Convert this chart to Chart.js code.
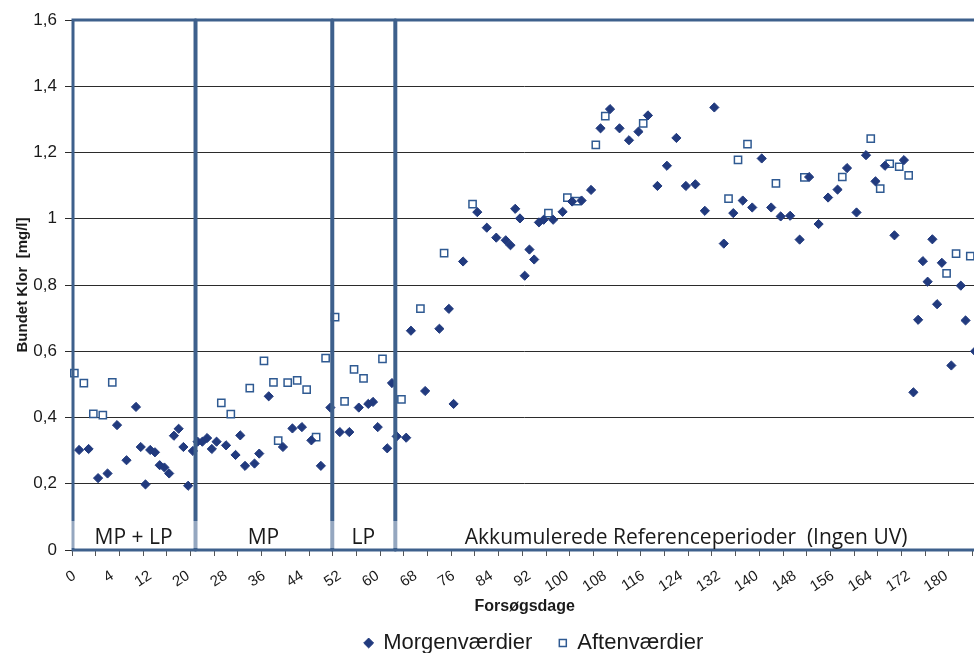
<!DOCTYPE html>
<html lang="da">
<head>
<meta charset="utf-8">
<title>Bundet klor</title>
<script src="https://cdn.jsdelivr.net/npm/chart.js@4.4.1/dist/chart.umd.min.js"></script>
<style>
  html, body { margin: 0; padding: 0; background: #fff; overflow: hidden; }
  #wrap { width: 984px; height: 653px; }
</style>
</head>
<body>
<div id="wrap"><canvas id="chart" width="984" height="653"></canvas></div>
<script>
// Prøvenummer (position på x-aksen) og målt bundet klor [mg/l]
const morgenNr = [1, 3, 5, 7, 9, 11, 13, 14, 15, 16, 17, 18, 19, 20, 21, 22, 23, 24, 25,
  26, 27, 28, 29, 30, 32, 34, 35, 36, 38, 39, 41, 44, 46, 48, 50, 52, 54,
  56, 58, 60, 62, 63, 64, 66, 67, 68, 70, 71, 74, 77, 79, 80, 82,
  85, 87, 89, 91, 92, 93, 94, 95, 96, 97, 98, 99, 101, 103, 105, 107, 109,
  111, 113, 115, 117, 119, 121, 123, 125, 127, 129, 131, 133, 135, 137, 139,
  141, 143, 145, 147, 149, 151, 153, 155, 157, 159, 161, 163, 165, 167, 169,
  171, 173, 175, 177, 178, 179, 180, 181, 182, 183, 185, 187, 188, 190];
const morgenVal = [0.302, 0.305, 0.217, 0.231, 0.377, 0.271, 0.432, 0.311, 0.198, 0.302, 0.295, 0.256, 0.249, 0.231, 0.345, 0.366, 0.311, 0.194, 0.299,
  0.327, 0.327, 0.338, 0.305, 0.327, 0.316, 0.287, 0.346, 0.254, 0.261, 0.291, 0.464, 0.311, 0.367, 0.371, 0.331, 0.254, 0.430,
  0.356, 0.356, 0.430, 0.441, 0.447, 0.371, 0.307, 0.504, 0.343, 0.339, 0.662, 0.480, 0.668, 0.728, 0.441, 0.871,
  1.020, 0.973, 0.943, 0.935, 0.920, 1.030, 1.001, 0.828, 0.907, 0.877, 0.989, 0.997, 0.997, 1.021, 1.052, 1.055, 1.087,
  1.273, 1.331, 1.273, 1.237, 1.263, 1.312, 1.099, 1.160, 1.244, 1.099, 1.104, 1.024, 1.336, 0.925, 1.017,
  1.055, 1.034, 1.182, 1.034, 1.007, 1.009, 0.937, 1.126, 0.984, 1.064, 1.088, 1.153, 1.019, 1.192, 1.113,
  1.160, 0.950, 1.177, 0.476, 0.695, 0.872, 0.810, 0.938, 0.742, 0.867, 0.557, 0.798, 0.693, 0.600];

const aftenNr = [0, 2, 4, 6, 8, 31, 33, 37, 40, 42, 43, 45, 47, 49, 51, 53, 55, 57, 59, 61, 65, 69, 73, 78,
  84, 100, 104, 106, 110, 112, 120, 138, 140, 142, 148, 154, 162, 168, 170, 172, 174, 176, 184, 186, 189];
const aftenVal = [0.534, 0.504, 0.411, 0.407, 0.506, 0.444, 0.410, 0.489, 0.571, 0.506, 0.330, 0.505, 0.512, 0.484, 0.341, 0.579,
  0.703, 0.449, 0.545, 0.518, 0.577, 0.455, 0.729, 0.896,
  1.044, 1.017, 1.064, 1.053, 1.223, 1.310, 1.288, 1.061, 1.178, 1.225, 1.107, 1.125, 1.126, 1.242, 1.091, 1.166, 1.157, 1.131,
  0.835, 0.895, 0.887];

const antalPrøver = 191;
// forsøgsdag skrives ved hver 8. prøve
const dagLabels = ['0', '4', '12', '20', '28', '36', '44', '52', '60', '68', '76', '84', '92', '100',
  '108', '116', '124', '132', '140', '148', '156', '164', '172', '180'];

// forsøgsperioder, afgrænset i prøvenumre
const perioder = [
  { navn: 'MP + LP', fra: -0.5, til: 25.45 },
  { navn: 'MP', fra: 25.45, til: 54.3 },
  { navn: 'LP', fra: 54.3, til: 67.6 },
  { navn: 'Akkumulerede Referenceperioder  (Ingen UV)', fra: 67.6, til: 190.5 }
];

function serie(nr, val) {
  const arr = new Array(antalPrøver).fill(null);
  nr.forEach((n, i) => { arr[n] = val[i]; });
  return arr;
}

const kategorier = Array.from({ length: antalPrøver }, (_, i) => String(i));

// rammer om perioderne + tekst i bunden
const periodeRammer = {
  id: 'periodeRammer',
  afterLayout(chart) {
    // forklaringen står lidt til højre for midten
    chart.legend.left += 9.5;
    chart.legend.right += 9.5;
  },
  afterDatasetsDraw(chart) {
    const { ctx, chartArea: a, scales: { x, y } } = chart;
    const top = y.getPixelForValue(1.6);
    const bund = y.getPixelForValue(0);
    ctx.save();
    ctx.strokeStyle = '#3E608C';
    ctx.lineWidth = 3;
    perioder.forEach(p => {
      const x0 = x.getPixelForValue(p.fra) + 1;
      const x1 = x.getPixelForValue(p.til);
      ctx.strokeRect(x0, top, x1 - x0, bund - top);
    });
    ctx.fillStyle = 'rgba(255,255,255,0.45)';
    ctx.fillRect(a.left - 2, bund - 29, a.width + 4, 27);
    ctx.fillStyle = '#1a1a1a';
    ctx.font = '21px "Open Sans"';
    ctx.textAlign = 'center';
    ctx.textBaseline = 'alphabetic';
    perioder.forEach(p => {
      const x0 = x.getPixelForValue(p.fra);
      const x1 = x.getPixelForValue(p.til);
      ctx.fillText(p.navn, (x0 + x1) / 2, bund - 6);
    });
    ctx.restore();
  }
};

Chart.defaults.font.family = '"Liberation Sans", Arial, sans-serif';
Chart.defaults.color = '#1a1a1a';

new Chart(document.getElementById('chart'), {
  type: 'line',
  data: {
    labels: kategorier,
    datasets: [
      {
        label: 'Morgenværdier',
        data: serie(morgenNr, morgenVal),
        showLine: false,
        pointStyle: 'rectRot',
        pointRadius: 4.6,
        pointBackgroundColor: '#213A7E',
        pointBorderColor: '#213A7E',
        pointBorderWidth: 1
      },
      {
        label: 'Aftenværdier',
        data: serie(aftenNr, aftenVal),
        showLine: false,
        pointStyle: 'rect',
        pointRadius: 5.1,
        pointBackgroundColor: '#ffffff',
        pointBorderColor: '#2F5A92',
        pointBorderWidth: 1.5
      }
    ]
  },
  options: {
    responsive: false,
    animation: false,
    events: [],
    layout: { padding: { top: 20, right: 4.4, bottom: -11, left: 0 } },
    scales: {
      x: {
        type: 'category',
        offset: true,
        border: { display: false },
        afterFit: s => {
          s.height = 55;
          s.paddingLeft = 0;
          s.paddingRight = 0;
        },
        grid: {
          offset: true,
          drawOnChartArea: false,
          tickLength: 6,
          color: ctx => (ctx.index % 5 === 0 ? '#555' : 'rgba(0,0,0,0)')
        },
        ticks: {
          autoSkip: false,
          minRotation: 33,
          maxRotation: 33,
          padding: 11,
          font: { size: 15 },
          callback: (v, i) => (i % 8 === 0 ? (dagLabels[i / 8] ?? '') : '')
        },
        title: {
          display: true,
          text: 'Forsøgsdage',
          font: { size: 16, weight: 'bold' },
          padding: { top: 0, bottom: -11.6 }
        }
      },
      y: {
        min: 0,
        max: 1.6,
        border: { display: false },
        afterFit: s => { s.width = 72; },
        grid: { color: '#2b2b2b', tickLength: 7 },
        ticks: {
          stepSize: 0.2,
          padding: 8,
          font: { size: 17 },
          callback: v => String(Math.round(v * 10) / 10).replace('.', ',')
        },
        title: {
          display: true,
          text: 'Bundet Klor  [mg/l]',
          font: { size: 15, weight: 'bold' },
          padding: { top: 14, bottom: 0 }
        }
      }
    },
    plugins: {
      legend: {
        position: 'bottom',
        fullSize: false,
        labels: {
          usePointStyle: true,
          boxWidth: 7,
          boxHeight: 7,
          padding: 27,
          font: { size: 22 },
          color: '#1a1a1a'
        }
      },
      tooltip: { enabled: false }
    }
  },
  plugins: [periodeRammer]
});
</script>
</body>
</html>
